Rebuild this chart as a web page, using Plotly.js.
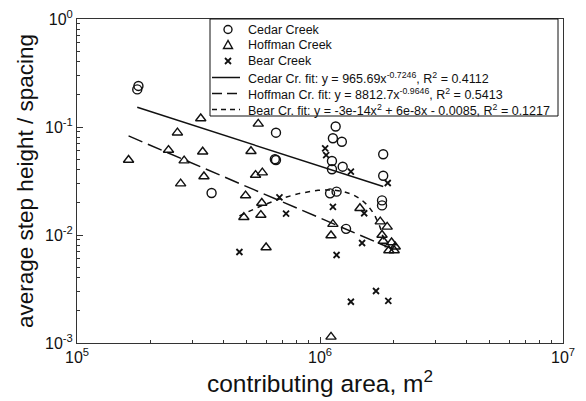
<!DOCTYPE html>
<html><head><meta charset="utf-8">
<script src="https://cdn.plot.ly/plotly-3.0.1.min.js"></script>
<style>html,body{margin:0;padding:0;background:#fff}#chart{width:586px;height:401px}</style>
</head><body><div id="chart"></div>
<script>
// ---- data ----
const cedarX = [1.79e5, 1.77e5, 6.59e5, 6.59e5, 6.52e5, 3.58e5, 1.16e6, 1.13e6, 1.23e6, 1.12e6, 1.12e6, 1.24e6, 1.82e6, 1.82e6, 1.10e6, 1.17e6, 1.80e6, 1.80e6, 1.28e6];
const cedarY = [0.240, 0.223, 0.0886, 0.0495, 0.0503, 0.0245, 0.101, 0.0786, 0.0731, 0.0484, 0.0406, 0.0429, 0.0559, 0.0354, 0.0243, 0.0252, 0.0209, 0.0188, 0.0114];

const hoffX = [1.63e5, 2.38e5, 2.59e5, 3.23e5, 2.76e5, 3.29e5, 2.67e5, 3.33e5, 5.57e5, 5.20e5, 5.43e5, 5.79e5, 4.94e5, 5.76e5, 4.86e5, 5.71e5, 6.00e5, 1.46e6, 1.77e6, 1.89e6, 1.13e6, 1.11e6, 1.80e6, 1.82e6, 1.97e6, 1.92e6, 2.02e6, 2.04e6, 1.11e6];
const hoffY = [0.0495, 0.0612, 0.0886, 0.120, 0.0488, 0.0590, 0.0299, 0.0348, 0.107, 0.0596, 0.0359, 0.0378, 0.0232, 0.0198, 0.0146, 0.0153, 0.00766, 0.0177, 0.0133, 0.0119, 0.0126, 0.00989, 0.0100, 0.0088, 0.00852, 0.00719, 0.00719, 0.00779, 0.00114];

const bearX = [4.66e5, 6.81e5, 7.25e5, 1.05e6, 1.06e6, 1.34e6, 1.90e6, 1.13e6, 1.52e6, 1.49e6, 1.17e6, 1.70e6, 1.34e6, 1.91e6];
const bearY = [0.00696, 0.0223, 0.0158, 0.0635, 0.0550, 0.0386, 0.0303, 0.0182, 0.0159, 0.00843, 0.00653, 0.00303, 0.00241, 0.00246];

// fit coefficients (power fits from the legend; quadratic estimated so the curve matches the drawn one)
const cedarFit = [965.69, -0.7246];
const hoffFit = [8812.7, -0.9646];
const bearFit = [-3.0e-14, 6.45e-8, -0.0085];
const bearFitEnd = 1.86e6;

const seriesNames = ['Cedar Creek', 'Hoffman Creek', 'Bear Creek'];
const fitLabels = [
  'Cedar Cr. fit: y = 965.69x<sup>-0.7246</sup>, R<sup>2</sup> = 0.4112',
  'Hoffman Cr. fit: y = 8812.7x<sup>-0.9646</sup>, R<sup>2</sup> = 0.5413',
  'Bear Cr. fit: y = -3e-14x<sup>2</sup> + 6e-8x - 0.0085, R<sup>2</sup> = 0.1217'
];
const xTickVals = [1e5, 1e6, 1e7];
const xTickText = ['10<sup>5</sup>', '10<sup>6</sup>', '10<sup>7</sup>'];
const yTickVals = [1e-3, 1e-2, 1e-1, 1];
const yTickText = ['10<sup>-3</sup>', '10<sup>-2</sup>', '10<sup>-1</sup>', '10<sup>0</sup>'];
const xTitle = 'contributing area, m<sup>2</sup>';
const yTitle = 'average step height / spacing';

// ---- build ----
const FONT = 'Liberation Sans, Arial, Helvetica, sans-serif';
const INK = '#111';

function logSpace(a, b, n) {
  const la = Math.log10(a), lb = Math.log10(b), out = [];
  for (let i = 0; i < n; i++) out.push(Math.pow(10, la + (lb - la) * i / (n - 1)));
  return out;
}
function minorVals(d0, d1) {
  const v = [];
  for (let d = d0; d < d1; d++) for (let k = 2; k <= 9; k++) v.push(k * Math.pow(10, d));
  return v;
}

const cfx = logSpace(Math.min(...cedarX), Math.max(...cedarX), 40);
const hfx = logSpace(Math.min(...hoffX), Math.max(...hoffX), 40);
const bfx = logSpace(Math.min(...bearX), bearFitEnd, 120);

const traces = [
  {x: cedarX, y: cedarY, mode: 'markers', type: 'scatter', name: seriesNames[0],
   marker: {symbol: 'circle-open', size: 9, color: INK, line: {width: 1.4, color: INK}}},
  {x: hoffX, y: hoffY, mode: 'markers', type: 'scatter', name: seriesNames[1],
   marker: {symbol: 'triangle-up-open', size: 9, color: INK, line: {width: 1.4, color: INK}}},
  {x: bearX, y: bearY, mode: 'markers', type: 'scatter', name: seriesNames[2],
   marker: {symbol: 'x-thin-open', size: 6, color: INK, line: {width: 1.8, color: INK}}},
  {x: cfx, y: cfx.map(v => cedarFit[0] * Math.pow(v, cedarFit[1])), mode: 'lines', type: 'scatter',
   name: 'Cedar Cr. fit', line: {color: INK, width: 1.5}},
  {x: hfx, y: hfx.map(v => hoffFit[0] * Math.pow(v, hoffFit[1])), mode: 'lines', type: 'scatter',
   name: 'Hoffman Cr. fit', line: {color: INK, width: 1.5, dash: '15px,6px'}},
  {x: bfx, y: bfx.map(v => bearFit[0] * v * v + bearFit[1] * v + bearFit[2]), mode: 'lines', type: 'scatter',
   name: 'Bear Cr. fit', line: {color: INK, width: 1.5, dash: '5px,5px'}}
];

// ---- manual legend (pixel-placed in paper coords) ----
const L = 77, T = 19, PW = 486, PH = 324;
const px2x = p => (p - L) / PW;
const py2y = p => 1 - (p - T) / PH;
const rows = [29.5, 45, 61, 77.5, 93.5, 109.5];
const symX = px2x(228), lineX0 = px2x(212), lineX1 = px2x(240), textX = px2x(246);

const shapes = [
  {type: 'rect', xref: 'paper', yref: 'paper', x0: px2x(210), x1: px2x(558), y0: py2y(116), y1: 1,
   line: {color: INK, width: 1}, fillcolor: 'rgba(255,255,255,0)', layer: 'above'},
  {type: 'circle', xref: 'paper', yref: 'paper', xsizemode: 'pixel', ysizemode: 'pixel',
   xanchor: symX, yanchor: py2y(rows[0]), x0: -4, x1: 4, y0: -4, y1: 4, line: {color: INK, width: 1.4}},
  {type: 'path', xref: 'paper', yref: 'paper', xsizemode: 'pixel', ysizemode: 'pixel',
   xanchor: symX, yanchor: py2y(rows[1]), path: 'M 0 4.5 L -4.5 -3.5 L 4.5 -3.5 Z', line: {color: INK, width: 1.4}},
  {type: 'path', xref: 'paper', yref: 'paper', xsizemode: 'pixel', ysizemode: 'pixel',
   xanchor: symX, yanchor: py2y(rows[2]), path: 'M -3 -3 L 3 3 M -3 3 L 3 -3', line: {color: INK, width: 1.8}},
  {type: 'line', xref: 'paper', yref: 'paper', x0: lineX0, x1: lineX1, y0: py2y(rows[3]), y1: py2y(rows[3]),
   line: {color: INK, width: 1.5}},
  {type: 'line', xref: 'paper', yref: 'paper', x0: lineX0, x1: lineX1, y0: py2y(rows[4]), y1: py2y(rows[4]),
   line: {color: INK, width: 1.5, dash: '10px,5px'}},
  {type: 'line', xref: 'paper', yref: 'paper', x0: lineX0, x1: lineX1, y0: py2y(rows[5]), y1: py2y(rows[5]),
   line: {color: INK, width: 1.5, dash: '5px,4px'}}
];
const legendTexts = seriesNames.concat(fitLabels);
const annotations = legendTexts.map((t, i) => ({
  text: t, xref: 'paper', yref: 'paper', x: textX, y: py2y(rows[i]), xanchor: 'left', yanchor: 'middle',
  showarrow: false, font: {family: FONT, size: 12.5, color: INK}
}));

const axisCommon = {
  type: 'log', showgrid: false, zeroline: false, showline: true, linecolor: '#333', linewidth: 1,
  mirror: true, ticks: 'inside', ticklen: 6, tickwidth: 1, tickcolor: '#333', automargin: false,
  tickfont: {family: FONT, size: 16, color: INK}, tickmode: 'array'
};

const layout = {
  width: 586, height: 401,
  margin: {l: 77, r: 23, t: 19, b: 58},
  paper_bgcolor: '#fff', plot_bgcolor: '#fff',
  showlegend: false,
  font: {family: FONT, color: INK},
  xaxis: Object.assign({}, axisCommon, {
    range: [5, 7], tickvals: xTickVals, ticktext: xTickText,
    minor: {tickmode: 'array', tickvals: minorVals(5, 7), ticks: 'inside', ticklen: 3, tickcolor: '#333', showgrid: false},
    title: {text: xTitle, font: {family: FONT, size: 24.5, color: INK}, standoff: 3}
  }),
  yaxis: Object.assign({}, axisCommon, {
    range: [-3, 0], tickvals: yTickVals, ticktext: yTickText,
    minor: {tickmode: 'array', tickvals: minorVals(-3, 0), ticks: 'inside', ticklen: 3, tickcolor: '#333', showgrid: false},
    title: {text: yTitle, font: {family: FONT, size: 22.5, color: INK}, standoff: 5}
  }),
  shapes: shapes,
  annotations: annotations
};

Plotly.newPlot('chart', traces, layout, {displayModeBar: false, staticPlot: true});
</script>
</body></html>
